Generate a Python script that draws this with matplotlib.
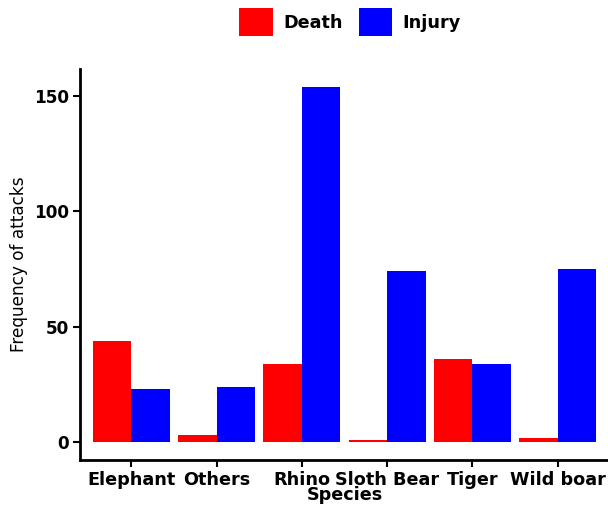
import matplotlib
matplotlib.use("Agg")
import matplotlib.pyplot as plt
import numpy as np
from matplotlib.patches import Patch

species = ["Elephant", "Others", "Rhino", "Sloth Bear", "Tiger", "Wild boar"]
death = [44, 3, 34, 1, 36, 2]
injury = [23, 24, 154, 74, 34, 75]
series_names = ["Death", "Injury"]
colors = ["#FF0000", "#0000FF"]
yticks = [0, 50, 100, 150]

plt.rcParams['font.family'] = ['DejaVu Sans']

fig = plt.figure(figsize=(6.08, 5.08), dpi=100)
ax = fig.add_axes([80/608, 1-460/508, 529/608, (460-69)/508])

x = np.arange(len(species))
w = 0.45
ax.bar(x - w/2, death, width=w, color=colors[0], linewidth=0)
ax.bar(x + w/2, injury, width=w, color=colors[1], linewidth=0)

ymax = max(max(death), max(injury))
ax.set_xlim(-0.6, len(species) - 0.4)
ax.set_ylim(-0.05*ymax, ymax*1.05)
ax.set_yticks(yticks)
ax.set_xticks(x)
ax.set_xticklabels(species, fontsize=12.7, fontweight='bold', color='black')
ax.set_yticklabels([str(v) for v in yticks], fontsize=12.2, fontweight='bold', color='black')
ax.tick_params(axis='both', length=5, width=1.5, color='black', pad=3)

for s in ['top', 'right']:
    ax.spines[s].set_visible(False)
for s in ['left', 'bottom']:
    ax.spines[s].set_linewidth(2)
    ax.spines[s].set_color('black')

ax.set_xlabel("Species", fontsize=12.7, fontweight='bold', labelpad=-2)
ax.set_ylabel("Frequency of attacks", fontsize=12.2, fontweight='medium', labelpad=4)

handles = [Patch(facecolor=c, edgecolor='none') for c in colors]
fig.legend(handles, series_names, loc='center', bbox_to_anchor=(350/608, 1-22/508),
           ncol=2, frameon=False, prop={'weight': 'bold', 'size': 12.7},
           handlelength=1.9, handleheight=2.0, columnspacing=0.9, handletextpad=0.6)

fig.savefig("out.png", dpi=100)
